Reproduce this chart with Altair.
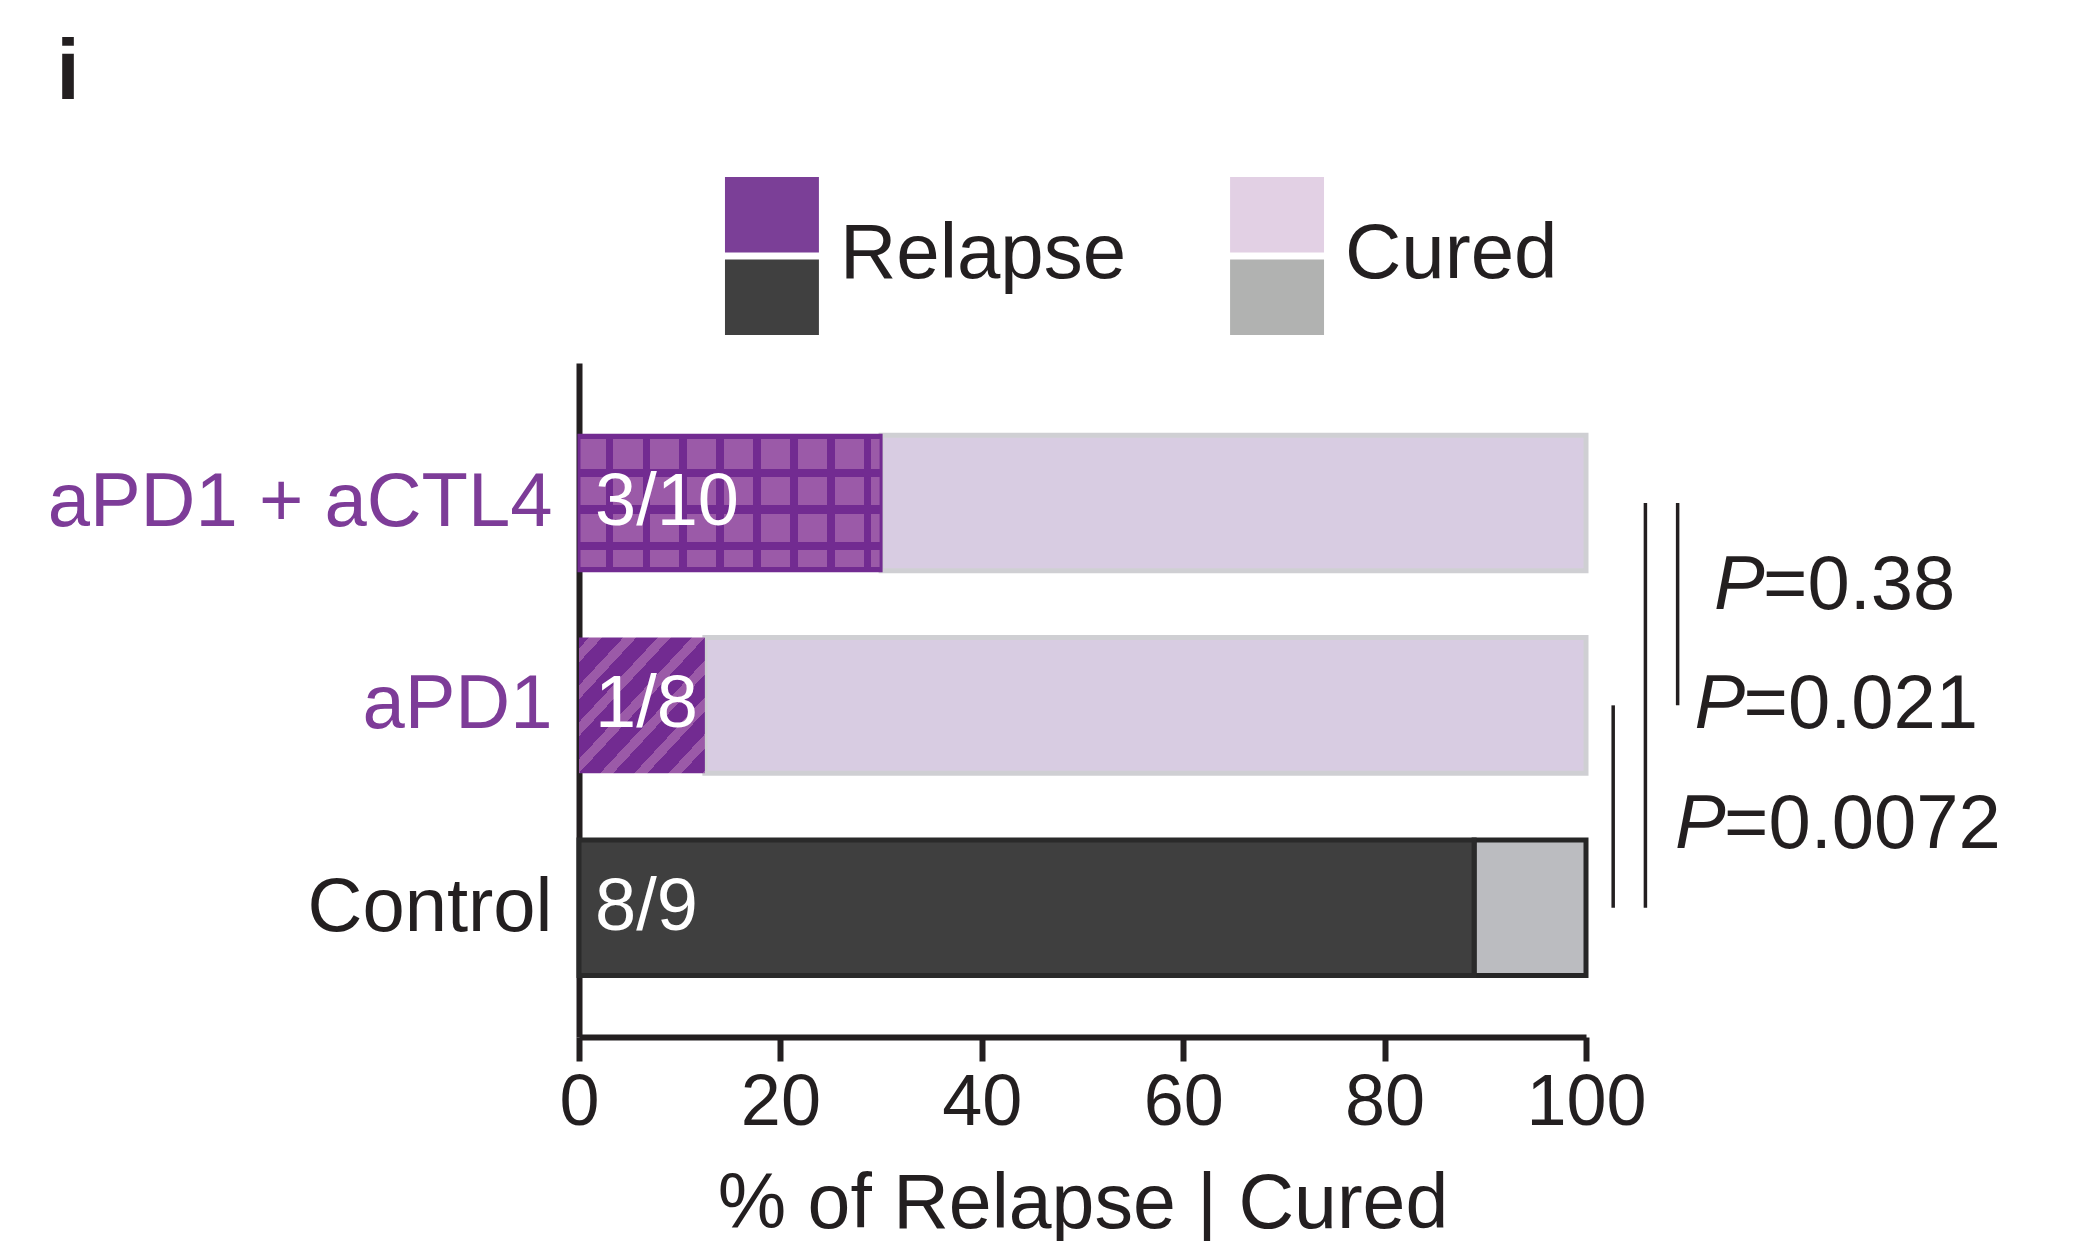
import altair as alt
import pandas as pd

# ---- data -----------------------------------------------------------------
groups = ["aPD1 + aCTL4", "aPD1", "Control"]
relapsed = [3, 1, 8]
totals = [10, 8, 9]

legend_entries = ["Relapse", "Cured"]
legend_rows = ["treated", "control"]
legend_colors = [["#7b3f97", "#404040"], ["#e2d0e4", "#b1b2b1"]]

comp_a = ["aPD1", "aPD1 + aCTL4", "aPD1 + aCTL4"]
comp_b = ["Control", "Control", "aPD1"]
comp_p = ["0.0072", "0.021", "0.38"]

x_ticks = [0, 20, 40, 60, 80, 100]

# ---- styling --------------------------------------------------------------
FONT = "Liberation Sans"
INK = "#231f20"
PURPLE_TXT = "#7d3c98"
DARK_LINE = "#722b91"
LIGHT_CELL = "#9b5aa8"
CLEAR = "rgba(0,0,0,0)"


def band_stops(centers, half, color):
    """Hard-edged stripes of `color` on a transparent background."""
    stops = [alt.GradientStop(color=CLEAR, offset=0)]
    for c in centers:
        a, b = max(0.0, c - half), min(1.0, c + half)
        stops += [
            alt.GradientStop(color=CLEAR, offset=a),
            alt.GradientStop(color=color, offset=a),
            alt.GradientStop(color=color, offset=b),
            alt.GradientStop(color=CLEAR, offset=b),
        ]
    stops.append(alt.GradientStop(color=CLEAR, offset=1))
    return stops


# grid pattern: vertical + horizontal line overlays
v_lines = [0.100 + 0.1223 * k for k in range(8)]
h_lines = [0.0, 0.277, 0.548, 0.820, 1.0]
grid_v = alt.LinearGradient(gradient="linear", stops=band_stops(v_lines, 0.012, DARK_LINE),
                            x1=0, y1=0, x2=1, y2=0)
grid_h = alt.LinearGradient(gradient="linear", stops=band_stops(h_lines, 0.03, DARK_LINE),
                            x1=0, y1=0, x2=0, y2=1)

# diagonal stripe pattern
period, light_frac, phase = 0.136, 0.38, 0.04
diag_stops = [alt.GradientStop(color=DARK_LINE, offset=0)]
t = phase
while t < 1:
    a, b = t, min(1.0, t + period * light_frac)
    diag_stops += [
        alt.GradientStop(color=DARK_LINE, offset=a),
        alt.GradientStop(color=LIGHT_CELL, offset=a),
        alt.GradientStop(color=LIGHT_CELL, offset=b),
        alt.GradientStop(color=DARK_LINE, offset=b),
    ]
    t += period
diag_stops.append(alt.GradientStop(color=DARK_LINE, offset=1))
diag = alt.LinearGradient(gradient="linear", stops=diag_stops, x1=0, y1=0, x2=1, y2=1)

# ---- tables ---------------------------------------------------------------
bars = pd.DataFrame({
    "group": groups,
    "pct": [r / t * 100 for r, t in zip(relapsed, totals)],
    "frac": [f"{r}/{t}" for r, t in zip(relapsed, totals)],
})
bars["full"] = 100

comps = pd.DataFrame({"a": comp_a, "b": comp_b, "p": comp_p})
comps["level"] = range(len(comps))
comps["bx"] = 102.7 + 3.2 * comps["level"]
comps["anchor"] = groups[1]

legend = pd.DataFrame([
    {"entry": e, "row": r, "color": legend_colors[i][j]}
    for i, e in enumerate(legend_entries)
    for j, r in enumerate(legend_rows)
])

# ---- main chart -----------------------------------------------------------
y_scale = alt.Scale(domain=groups, paddingInner=0.33, paddingOuter=0.33, align=0.54)
x_scale = alt.Scale(domain=[0, 100])

y_axis = alt.Axis(ticks=False, tickSize=0, labelPadding=27, labelFontSize=76,
                  labelFont=FONT, labelLimit=0, domainWidth=6, domainColor=INK,
                  labelColor=alt.ExprRef(expr=f"datum.value === 'Control' ? '{INK}' : '{PURPLE_TXT}'"))
x_axis = alt.Axis(values=x_ticks, grid=False, tickSize=24, tickWidth=6, tickColor=INK,
                  domainWidth=6, domainColor=INK, labelFontSize=72, labelFont=FONT,
                  labelColor=INK, labelPadding=6, labelFlush=False, titleFontSize=77,
                  titleFont=FONT, titleFontWeight="normal", titleColor=INK, titlePadding=28)
X_TITLE = "% of Relapse | Cured"


def Yf(field):
    return alt.Y(field, scale=y_scale, sort=groups, title=None, axis=y_axis)


def Xf(field):
    return alt.X(field, scale=x_scale, axis=x_axis, title=X_TITLE)


base = alt.Chart(bars)
treated = base.transform_filter(alt.datum.group != "Control")
control = base.transform_filter(alt.datum.group == "Control")

cured_treated = treated.mark_bar(color="#d8cce2", stroke="#cfcfd3", strokeWidth=5).encode(
    x=Xf("pct:Q"), x2="full:Q", y=Yf("group:N"))
cured_control = control.mark_bar(color="#bbbcc0", stroke="#262626", strokeWidth=5).encode(
    x=Xf("pct:Q"), x2="full:Q", y=Yf("group:N"))
relapse_control = control.mark_bar(color="#3f3f3f", stroke="#2a2a2a", strokeWidth=5).encode(
    x=Xf("pct:Q"), x2=alt.X2(datum=0), y=Yf("group:N"))

combo = base.transform_filter(alt.datum.group == groups[0])
combo_base = combo.mark_bar(color=LIGHT_CELL, stroke=DARK_LINE, strokeWidth=3).encode(
    x=Xf("pct:Q"), x2=alt.X2(datum=0), y=Yf("group:N"))
combo_v = combo.mark_bar(fill=grid_v).encode(
    x=Xf("pct:Q"), x2=alt.X2(datum=0), y=Yf("group:N"))
combo_h = combo.mark_bar(fill=grid_h).encode(
    x=Xf("pct:Q"), x2=alt.X2(datum=0), y=Yf("group:N"))

single = base.transform_filter(alt.datum.group == groups[1])
single_bar = single.mark_bar(fill=diag).encode(
    x=Xf("pct:Q"), x2=alt.X2(datum=0), y=Yf("group:N"))

fractions = base.mark_text(align="left", baseline="middle", dx=16, fontSize=74,
                           font=FONT, color="white").encode(
    x=alt.X(datum=0, scale=x_scale, axis=x_axis, title=X_TITLE),
    y=Yf("group:N"), text="frac:N")

brackets = alt.Chart(comps).mark_rule(color=INK, strokeWidth=3.5).encode(
    x=Xf("bx:Q"), y=Yf("a:N"), y2="b:N")

p_layers = []
for lvl in comps["level"]:
    sub = alt.Chart(comps).transform_filter(alt.datum.level == int(lvl))
    dy = (1 - int(lvl)) * 119.5
    dx = 89 + 19.5 * int(lvl)
    enc = dict(x=alt.X(datum=100, scale=x_scale, axis=x_axis, title=X_TITLE),
               y=Yf("anchor:N"))
    p_layers.append(sub.mark_text(text="P", align="left", baseline="middle", fontSize=76,
                                  font=FONT, fontStyle="italic", color=INK,
                                  dx=dx, dy=dy).encode(**enc))
    p_layers.append(sub.mark_text(align="left", baseline="middle", fontSize=76, font=FONT,
                                  color=INK, dx=dx + 49, dy=dy).encode(
        text=alt.Text("eq:N"), **enc).transform_calculate(eq="'=' + datum.p"))

main = alt.layer(
    cured_treated, cured_control, relapse_control,
    combo_base, combo_v, combo_h, single_bar,
    fractions, brackets, *p_layers,
).properties(width=1007, height=674)

# ---- legend ---------------------------------------------------------------
lx = alt.Scale(domain=legend_entries, paddingInner=0.814, paddingOuter=0.289)
ly = alt.Scale(domain=legend_rows, paddingInner=0.085, paddingOuter=0)

leg_rects = alt.Chart(legend).mark_rect().encode(
    x=alt.X("entry:N", scale=lx, sort=legend_entries, axis=None),
    y=alt.Y("row:N", scale=ly, sort=legend_rows, axis=None),
    color=alt.Color("color:N", scale=None),
)
leg_text = alt.Chart(legend).transform_filter(alt.datum.row == "treated").mark_text(
    align="left", baseline="middle", dx=21, dy=3, fontSize=78, font=FONT, color=INK,
).encode(
    x=alt.X("entry:N", scale=lx, sort=legend_entries, axis=None, bandPosition=1),
    y=alt.Y("row:N", scale=ly, sort=legend_rows, axis=None, bandPosition=1),
    text="entry:N",
)
legend_chart = alt.layer(leg_rects, leg_text).properties(width=891, height=158)

chart = alt.vconcat(legend_chart, main, spacing=28, bounds="flush").properties(
    title=alt.TitleParams("i", anchor="start", frame="bounds", fontSize=85, font=FONT,
                          fontWeight="bold", color=INK, dx=9, offset=60),
    padding={"left": 47, "top": 31, "right": 20, "bottom": 0},
).configure_view(strokeWidth=0)

chart.save("out.html", embed_options={"renderer": "svg", "actions": False})
